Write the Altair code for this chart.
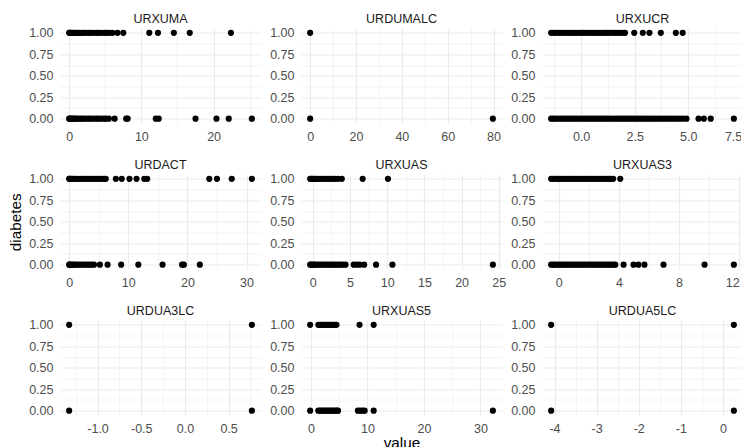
import altair as alt
import pandas as pd

variables = ["URXUMA", "URDUMALC", "URXUCR", "URDACT", "URXUAS", "URXUAS3",
             "URDUA3LC", "URXUAS5", "URDUA5LC"]

# values for diabetes == 1
urxuma_1 = [0, 0.1, 0.2, 0.3, 0.5, 0.7, 0.9, 1.1, 1.4, 1.7, 2.0, 2.3, 2.7, 3.0, 3.4, 3.8,
            4.1, 4.5, 4.9, 5.2, 5.6, 6.0, 6.7, 7.5, 11.1, 12.3, 14.5, 16.7, 22.4]
urdumalc_1 = [0]
urxucr_1 = [-1.40, -1.28, -1.15, -1.02, -0.90, -0.78, -0.65, -0.52, -0.40, -0.28, -0.15, -0.02,
            0.10, 0.22, 0.35, 0.48, 0.60, 0.72, 0.85, 0.98, 1.10, 1.22, 1.35, 1.48, 1.60, 1.72,
            1.85, 1.98, 2.05, 2.48, 2.88, 3.19, 3.72, 4.42, 4.74]
urdact_1 = [0, 0.1, 0.3, 0.5, 0.8, 1.1, 1.5, 1.9, 2.3, 2.7, 3.1, 3.5, 3.9, 4.3, 4.7, 5.1, 5.5,
            5.9, 6.2, 7.9, 8.9, 10.2, 11.4, 12.7, 13.2, 23.7, 25.0, 27.5, 30.9]
urxuas_1 = [-0.36, -0.2, 0.0, 0.2, 0.4, 0.7, 1.0, 1.3, 1.6, 2.0, 2.3, 2.7, 3.0, 3.4, 3.9, 6.7, 10.1]
urxuas3_1 = [-0.51, -0.38, -0.25, -0.1, 0.05, 0.2, 0.35, 0.5, 0.65, 0.8, 0.95, 1.1, 1.25, 1.4,
             1.55, 1.7, 1.85, 2.0, 2.15, 2.3, 2.45, 2.6, 2.75, 2.9, 3.05, 3.2, 3.35, 3.45, 3.62, 4.09]
urdua3lc_1 = [-1.325, 0.766]
urxuas5_1 = [-0.15, 1.3, 1.6, 1.9, 2.2, 2.5, 2.8, 3.1, 3.4, 3.7, 4.0, 4.25, 4.5, 8.6, 11.1]
urdua5lc_1 = [-4.08, 0.26]

# values for diabetes == 0
urxuma_0 = [0, 0.1, 0.2, 0.4, 0.6, 0.8, 1.0, 1.3, 1.6, 1.9, 2.2, 2.6, 2.9, 3.3, 3.7, 4.0, 4.4,
            4.8, 5.1, 5.5, 6.3, 7.9, 8.1, 12.0, 12.4, 17.5, 20.4, 22.1, 25.3]
urdumalc_0 = [0, 79.7]
urxucr_0 = [-1.40, -1.30, -1.18, -1.05, -0.92, -0.80, -0.68, -0.55, -0.42, -0.30, -0.18, -0.05,
            0.08, 0.20, 0.32, 0.45, 0.58, 0.70, 0.82, 0.95, 1.08, 1.20, 1.32, 1.45, 1.58, 1.70,
            1.82, 1.95, 2.08, 2.20, 2.32, 2.45, 2.58, 2.70, 2.82, 2.95, 3.08, 3.20, 3.33, 3.46,
            3.60, 3.74, 3.88, 4.02, 4.16, 4.30, 4.45, 4.60, 4.75, 4.92, 5.48, 5.73, 6.05, 7.13]
urdact_0 = [0, 0.1, 0.3, 0.5, 0.8, 1.1, 1.4, 1.8, 2.2, 2.6, 3.0, 3.4, 3.8, 4.2, 5.2, 6.5, 8.8,
            11.7, 15.8, 19.1, 19.4, 22.1]
urxuas_0 = [-0.36, -0.2, 0.0, 0.2, 0.4, 0.7, 1.0, 1.3, 1.6, 1.9, 2.2, 2.5, 2.8, 3.1, 3.4, 3.7,
            4.0, 4.4, 5.5, 5.9, 6.3, 6.9, 8.5, 10.7, 24.2]
urxuas3_0 = [-0.51, -0.38, -0.25, -0.1, 0.05, 0.2, 0.35, 0.5, 0.65, 0.8, 0.95, 1.1, 1.25, 1.4,
             1.55, 1.7, 1.85, 2.0, 2.15, 2.3, 2.45, 2.6, 2.75, 2.9, 3.05, 3.2, 3.35, 3.5, 3.65,
             3.76, 4.31, 4.97, 5.3, 5.7, 6.97, 9.7, 11.65]
urdua3lc_0 = [-1.325, 0.766]
urxuas5_0 = [-0.15, 1.3, 1.6, 1.9, 2.2, 2.5, 2.8, 3.1, 3.4, 3.7, 4.0, 4.3, 4.6, 4.8, 8.3, 8.7,
             9.1, 9.5, 11.1, 32.2]
urdua5lc_0 = [-4.08, 0.26]

values_1 = dict(zip(variables, [urxuma_1, urdumalc_1, urxucr_1, urdact_1, urxuas_1, urxuas3_1,
                                urdua3lc_1, urxuas5_1, urdua5lc_1]))
values_0 = dict(zip(variables, [urxuma_0, urdumalc_0, urxucr_0, urdact_0, urxuas_0, urxuas3_0,
                                urdua3lc_0, urxuas5_0, urdua5lc_0]))

major_ticks = {
    "URXUMA": [0, 10, 20],
    "URDUMALC": [0, 20, 40, 60, 80],
    "URXUCR": [0, 2.5, 5, 7.5],
    "URDACT": [0, 10, 20, 30],
    "URXUAS": [0, 5, 10, 15, 20, 25],
    "URXUAS3": [0, 4, 8, 12],
    "URDUA3LC": [-1, -0.5, 0, 0.5],
    "URXUAS5": [0, 10, 20, 30],
    "URDUA5LC": [-4, -3, -2, -1, 0],
}
minor_ticks = {
    "URXUMA": [5, 15, 25],
    "URDUMALC": [10, 30, 50, 70],
    "URXUCR": [-1.25, 1.25, 3.75, 6.25],
    "URDACT": [5, 15, 25],
    "URXUAS": [2.5, 7.5, 12.5, 17.5, 22.5],
    "URXUAS3": [2, 6, 10],
    "URDUA3LC": [-1.25, -0.75, -0.25, 0.25, 0.75],
    "URXUAS5": [5, 15, 25],
    "URDUA5LC": [-3.5, -2.5, -1.5, -0.5],
}
one_decimal = {"URXUCR", "URDUA3LC"}
# last labels of the right column that sit on the page edge
edge_label = {"URXUCR": 7.5, "URXUAS3": 12}

y_major = [0, 0.25, 0.5, 0.75, 1]
y_minor = [0.125, 0.375, 0.625, 0.875]

FONT = "Liberation Sans"
GRID = "#EBEBEB"


def panel(idx, name):
    v1, v0 = values_1[name], values_0[name]
    df = pd.DataFrame({"value": v1 + v0, "diabetes": [1] * len(v1) + [0] * len(v0)})
    lo, hi = min(v1 + v0), max(v1 + v0)
    pad = 0.05 * (hi - lo)
    maj = major_ticks[name]
    test_x = "indexof([" + ",".join(repr(float(m)) for m in maj) + "], datum.value) >= 0"
    fmt = ".1f" if name in one_decimal else ".0f"
    x_label = (f"{test_x} ? ((datum.value < 0 ? '-' : '') + format(abs(datum.value), '{fmt}')) : ''")
    test_y = "indexof([" + ",".join(repr(float(m)) for m in y_major) + "], datum.value) >= 0"
    y_label = f"{test_y} ? format(datum.value, '.2f') : ''"

    x_axis_kw = dict(
        values=sorted(maj + minor_ticks[name]), labelExpr=x_label, labelOverlap=False,
        labelFlush=False, grid=True, gridColor=GRID,
        gridWidth=alt.condition(test_x, alt.value(1.2), alt.value(0.6)),
        title="value" if idx == 7 else None, labelPadding=7, titlePadding=1,
    )
    if name in edge_label:
        x_axis_kw["labelAlign"] = alt.condition(f"datum.value >= {edge_label[name]}",
                                                alt.value("right"), alt.value("center"))
    x_axis = alt.Axis(**x_axis_kw)
    y_axis = alt.Axis(
        values=sorted(y_major + y_minor), labelExpr=y_label, labelOverlap=False,
        labelFlush=False, grid=True, gridColor=GRID,
        gridWidth=alt.condition(test_y, alt.value(1.2), alt.value(0.6)),
        title="diabetes" if idx == 3 else None, labelPadding=7, titlePadding=5,
    )
    return alt.Chart(df).mark_circle(size=38, color="black", opacity=1).encode(
        x=alt.X("value:Q", scale=alt.Scale(domain=[lo - pad, hi + pad], nice=False, zero=False),
                axis=x_axis),
        y=alt.Y("diabetes:Q", scale=alt.Scale(domain=[-0.05, 1.05], nice=False, zero=False),
                axis=y_axis),
    ).properties(
        width=201, height=94.5,
        title=alt.TitleParams(name, fontSize=12.5, font=FONT, color="#1A1A1A",
                              fontWeight="normal", anchor="middle", offset=1),
    )


chart = alt.concat(
    *[panel(i, n) for i, n in enumerate(variables)],
    columns=3, spacing={"row": 51, "column": 40}, bounds="flush",
).properties(
    padding={"left": 0, "top": 4.5, "right": -2, "bottom": -5},
).configure_view(stroke=None).configure_axis(
    domain=False, ticks=False, tickSize=0, labelFont=FONT, labelFontSize=12.5,
    labelColor="#4D4D4D", titleFont=FONT, titleFontSize=15.3, titleFontWeight="normal",
    titleColor="black",
)

chart.save("out.html", embed_options={"renderer": "svg", "actions": False})
